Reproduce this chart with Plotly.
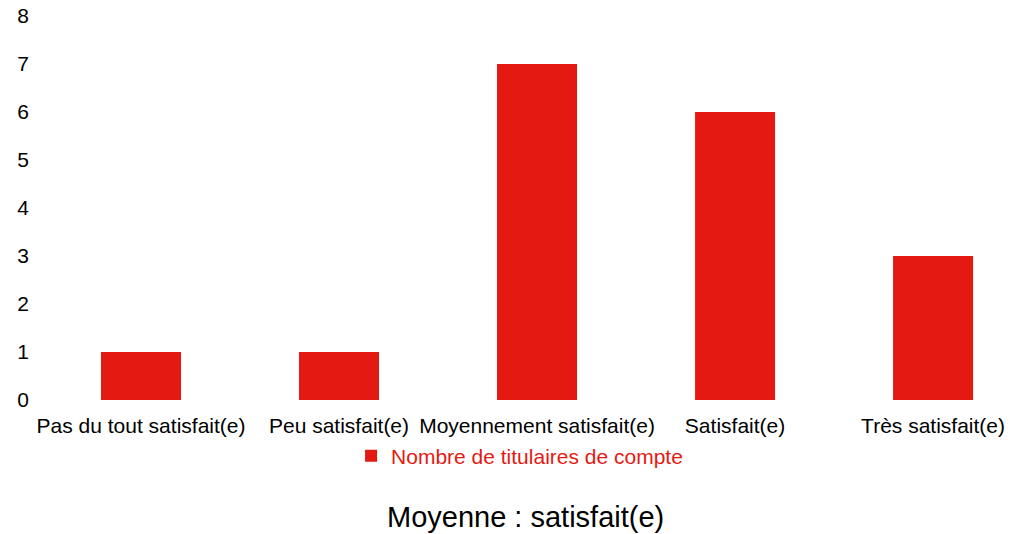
import plotly.graph_objects as go

categories = ["Pas du tout satisfait(e)", "Peu satisfait(e)", "Moyennement satisfait(e)",
              "Satisfait(e)", "Très satisfait(e)"]
counts = [1, 1, 7, 6, 3]
series_name = "Nombre de titulaires de compte"
y_ticks = [0, 1, 2, 3, 4, 5, 6, 7, 8]
title_text = "Moyenne : satisfait(e)"

RED = "#E41A12"
FONT = "Liberation Sans, Arial, sans-serif"

fig = go.Figure()
fig.add_trace(go.Bar(x=list(range(len(categories))), y=counts, name=series_name,
                     marker=dict(color=RED, line=dict(width=0)), width=0.404,
                     showlegend=True))

fig.update_layout(
    width=1010, height=534,
    margin=dict(l=30, r=10, t=16, b=134),
    paper_bgcolor="white", plot_bgcolor="white",
    font=dict(family=FONT, size=21, color="#000000"),
    xaxis=dict(range=[-0.5606, 4.338], tickmode="array",
               tickvals=list(range(len(categories))), ticktext=categories,
               showgrid=False, zeroline=False, showline=False, ticks="",
               tickangle=0, ticklabelstandoff=11, automargin=False,
               tickfont=dict(size=21, color="#000000")),
    yaxis=dict(range=[0, 8], tickmode="array", tickvals=y_ticks,
               showgrid=False, zeroline=False, showline=False, ticks="",
               automargin=False,
               tickfont=dict(size=21, color="#000000")),
    legend=dict(orientation="h", x=0.331, xanchor="left", y=-0.146, yanchor="middle",
                font=dict(size=21, color=RED), bgcolor="rgba(0,0,0,0)"),
    annotations=[dict(text=title_text, xref="paper", yref="paper", x=0.511, y=-0.305,
                      xanchor="center", yanchor="middle", showarrow=False,
                      font=dict(size=29, color="#000000", family=FONT))],
)

# drop the default 8px body margin so the figure fills the window
fig.write_html("out.html", config={"displayModeBar": False},
               post_script="document.body.style.margin = '0';")
